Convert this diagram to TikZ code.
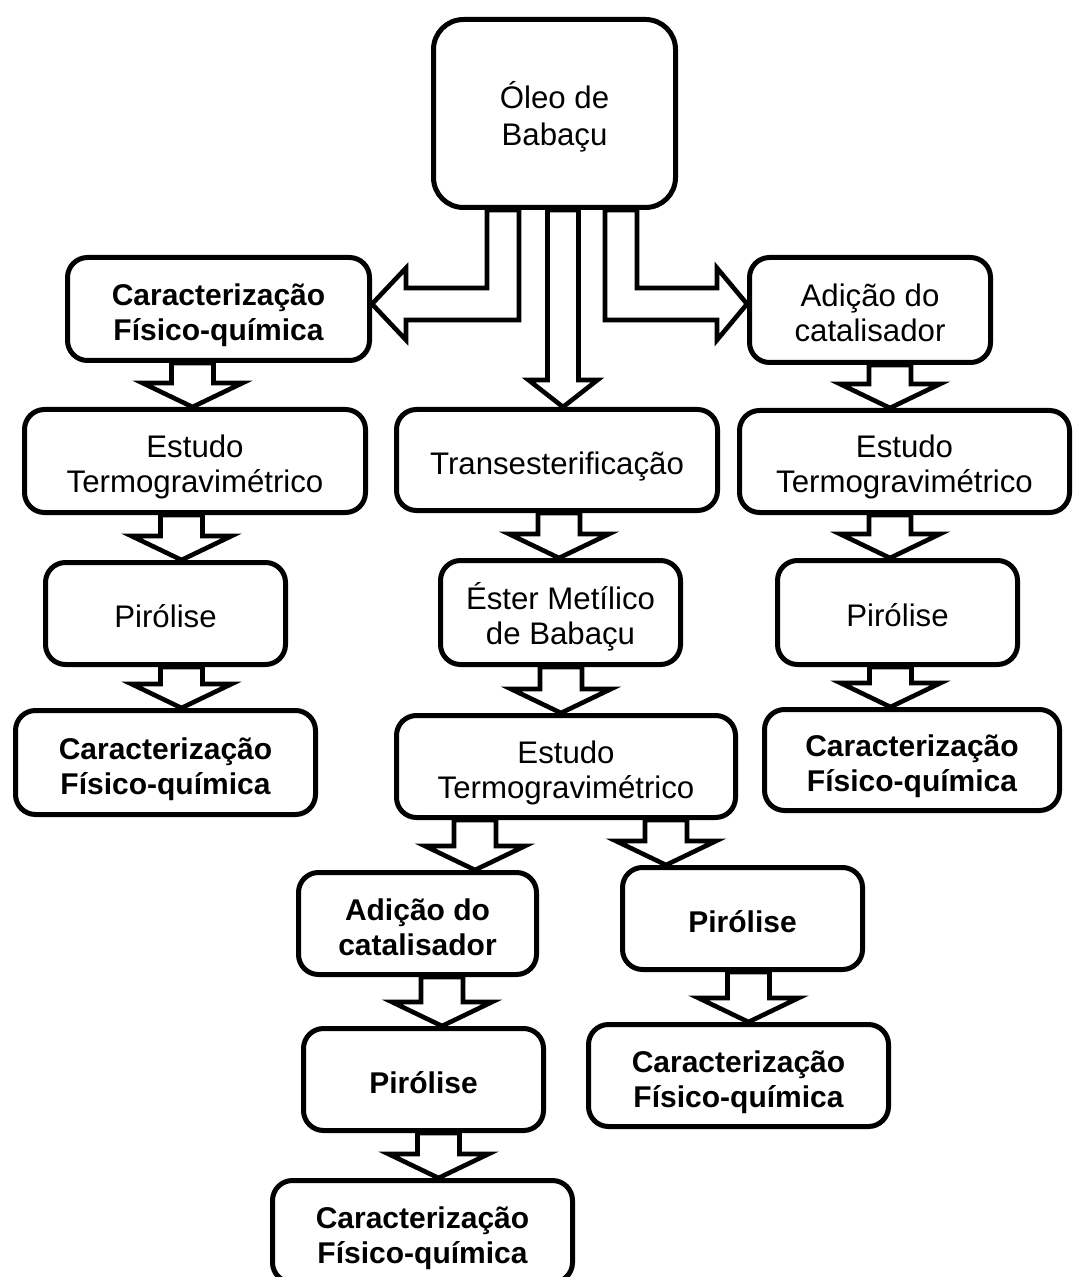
\documentclass[tikz,border=0pt]{standalone}
\usepackage{fontspec}
\setmainfont{Liberation Sans}
\usetikzlibrary{calc}
\pgfdeclarelayer{bg}
\pgfsetlayers{bg,main}

\tikzset{
  box/.style={draw, line width=2.5pt, fill=white, rounded corners=10pt,
    align=center, inner sep=0pt, font=\fontsize{15.6}{17.5}\selectfont},
  boldbox/.style={box, font=\fontsize{15}{17.5}\selectfont\bfseries},
  blockarrow/.style={draw, line width=2.3pt, fill=white, line join=miter},
}

% rounded box: name, centre x, centre y, width, height (px), style, text
\newcommand{\flowbox}[7]{%
  \pgfmathsetmacro\bw{(#4-5)*0.5}\pgfmathsetmacro\bh{(#5-5)*0.5}%
  \node[#6, minimum width=\bw pt, minimum height=\bh pt] (#1) at (#2,#3)
    {\rule{0pt}{17.5pt}#7\rule[-3.5pt]{0pt}{0pt}};}

% hollow block arrow pointing down: tip x, source node, target node
\newcommand{\blkdown}[3]{%
  \coordinate (bx) at (#1,0);
  \coordinate (bt) at (bx |- #3.north);
  \coordinate (bs) at (bx |- #2.south);
  \draw[blockarrow] (bt) -- ++(50,-24) -- ++(-29,0) -- ($(bs)+(21,0)$)
    -- ($(bs)+(-21,0)$) -- ($(bt)+(-21,-24)$) -- ++(-29,0) -- cycle;}

\begin{document}
\begin{tikzpicture}[x=0.5pt,y=-0.5pt]
\useasboundingbox (0,0) rectangle (1074,1277);

% boxes
\flowbox{oleo}{554.5}{113.5}{247}{193}{box, rounded corners=15pt, font=\fontsize{15.6}{18.5}\selectfont}{Óleo de\\Babaçu}
\flowbox{c1}{218.5}{309}{307}{108}{boldbox}{Caracterização\\Físico-química}
\flowbox{a1}{870}{310}{246}{110}{box}{Adição do\\catalisador}
\flowbox{e1}{195}{461}{346}{108}{box}{Estudo\\Termogravimétrico}
\flowbox{t}{557}{460}{326}{106}{box}{Transesterificação}
\flowbox{e2}{904.5}{461.5}{335}{107}{box}{Estudo\\Termogravimétrico}
\flowbox{p1}{165.5}{613.5}{245}{107}{box}{Pirólise}
\flowbox{em}{560.5}{612.5}{245}{109}{box}{Éster Metílico\\de Babaçu}
\flowbox{p2}{897.5}{612.5}{245}{109}{box}{Pirólise}
\flowbox{c2}{165.5}{762.5}{305}{109}{boldbox}{Caracterização\\Físico-química}
\flowbox{e3}{566}{766.5}{344}{107}{box}{Estudo\\Termogravimétrico}
\flowbox{c3}{912}{760}{300}{106}{boldbox}{Caracterização\\Físico-química}
\flowbox{a2}{417.5}{923.5}{243}{107}{boldbox}{Adição do\\catalisador}
\flowbox{p3}{742.5}{918.5}{245}{107}{boldbox}{Pirólise}
\flowbox{p4}{423.5}{1079.5}{245}{107}{boldbox}{Pirólise}
\flowbox{c4}{738.5}{1075.5}{305}{107}{boldbox}{Caracterização\\Físico-química}
\flowbox{c5}{422.5}{1231.5}{305}{107}{boldbox}{Caracterização\\Físico-química}

\begin{pgfonlayer}{bg}
  % split arrows leaving the oil box
  \coordinate (lo) at (487,0);
  \coordinate (li) at (519,0);
  \coordinate (lt) at ($(c1.east)+(0,-5)$);
  \coordinate (lu) at ($(lt)+(0,-16)$);
  \coordinate (ld) at ($(lt)+(0,16)$);
  \draw[blockarrow] (lt) -- ($(lt)+(34,-36)$) -- ($(lt)+(34,-16)$)
    -- (lu -| lo) -- (lo |- oleo.south) -- (li |- oleo.south) -- (ld -| li)
    -- ($(lt)+(34,16)$) -- ($(lt)+(34,36)$) -- cycle;

  \coordinate (ro) at (637,0);
  \coordinate (ri) at (605,0);
  \coordinate (rt) at ($(a1.west)+(0,-6)$);
  \coordinate (ru) at ($(rt)+(0,-16)$);
  \coordinate (rd) at ($(rt)+(0,16)$);
  \draw[blockarrow] (rt) -- ($(rt)+(-30,-36)$) -- ($(rt)+(-30,-16)$)
    -- (ru -| ro) -- (ro |- oleo.south) -- (ri |- oleo.south) -- (rd -| ri)
    -- ($(rt)+(-30,16)$) -- ($(rt)+(-30,36)$) -- cycle;

  \coordinate (cx) at (563,0);
  \coordinate (ct) at (cx |- t.north);
  \coordinate (cs) at (cx |- oleo.south);
  \draw[blockarrow] (ct) -- ++(34.5,-27) -- ++(-19,0) -- ($(cs)+(15.5,0)$)
    -- ($(cs)+(-15.5,0)$) -- ($(ct)+(-15.5,-27)$) -- ++(-19,0) -- cycle;

  % arrows between steps
  \blkdown{192.5}{c1}{e1}
  \blkdown{181.5}{e1}{p1}
  \blkdown{181.5}{p1}{c2}
  \blkdown{559}{t}{em}
  \blkdown{561}{em}{e3}
  \blkdown{890}{a1}{e2}
  \blkdown{890}{e2}{p2}
  \blkdown{890.5}{p2}{c3}
  \blkdown{475}{e3}{a2}
  \blkdown{666}{e3}{p3}
  \blkdown{442}{a2}{p4}
  \blkdown{748.5}{p3}{c4}
  \blkdown{438.5}{p4}{c5}
\end{pgfonlayer}
\end{tikzpicture}
\end{document}
